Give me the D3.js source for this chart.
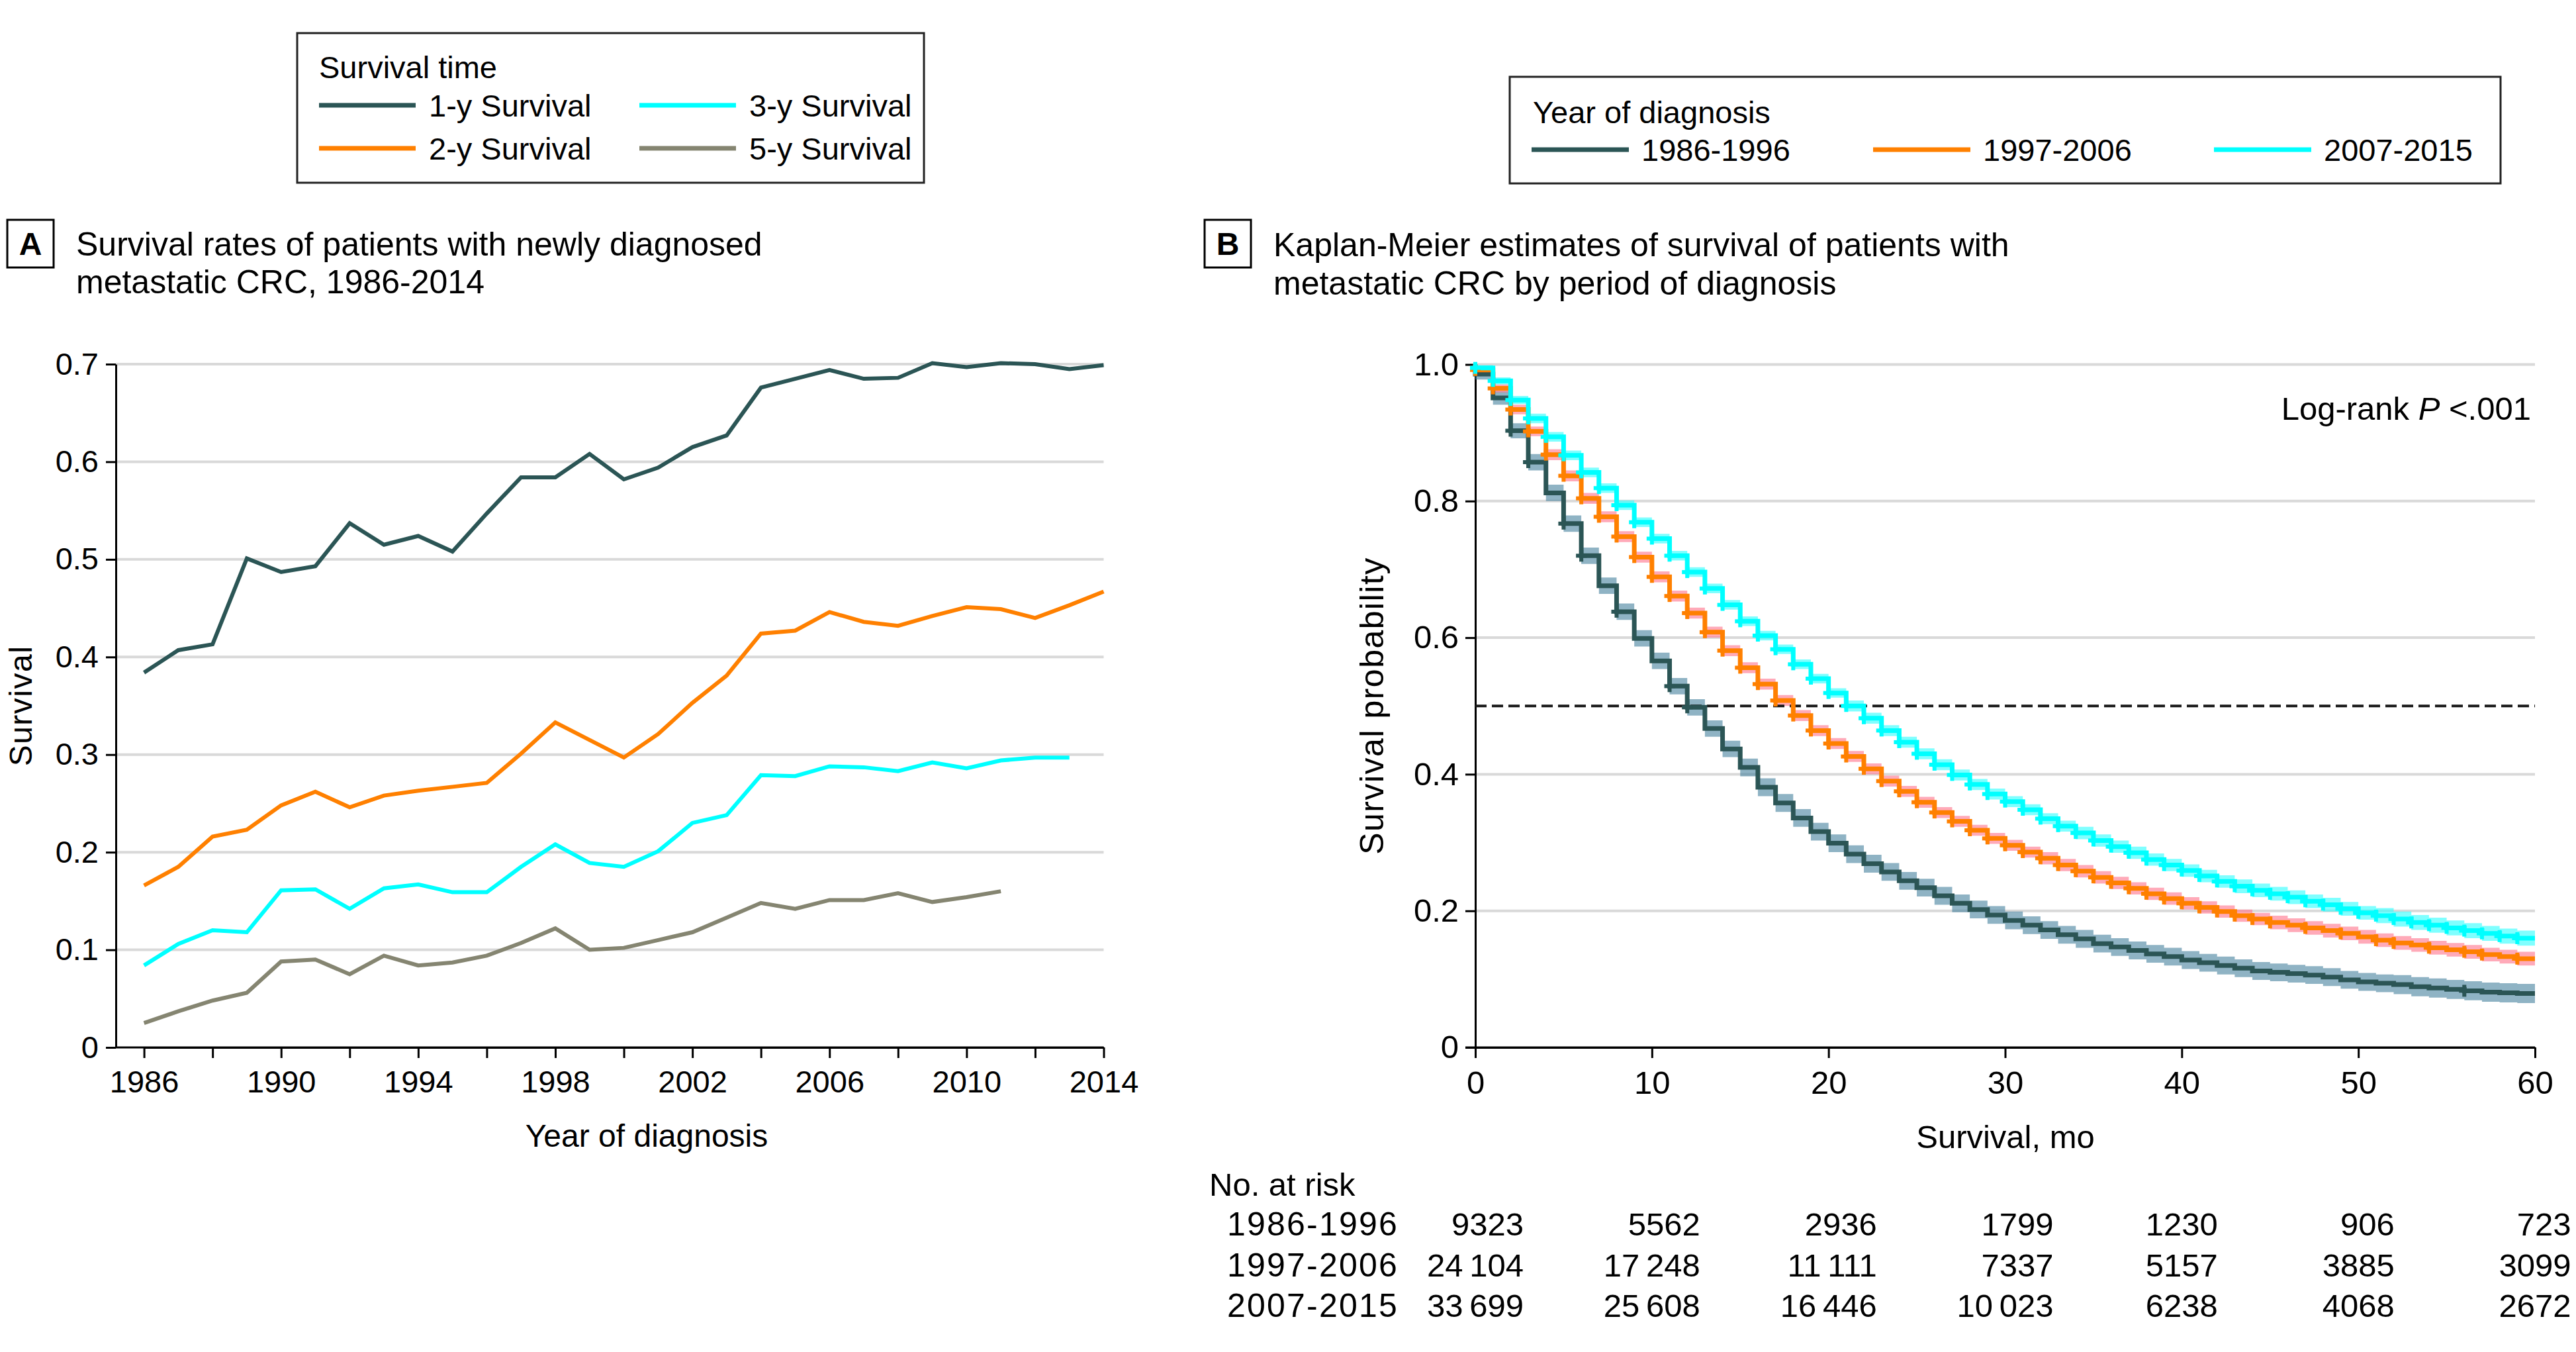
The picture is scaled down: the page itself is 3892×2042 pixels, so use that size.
<!DOCTYPE html>
<html><head><meta charset="utf-8">
<script src="https://cdn.jsdelivr.net/npm/d3@7"></script>
<style>
html,body{margin:0;padding:0;background:#fff;}
svg text{font-family:"Liberation Sans",Arial,Helvetica,sans-serif;fill:#000;}
</style></head><body>
<svg id="chart" width="3892" height="2042"></svg>
<script>
// ---------------- Panel A data ----------------
const years = d3.range(1986, 2015);
const survival1y = [0.384,0.407,0.413,0.501,0.487,0.493,0.537,0.515,0.524,0.508,0.547,0.584,0.584,0.608,0.582,0.594,0.615,0.627,0.676,0.685,0.694,0.685,0.686,0.701,0.697,0.701,0.700,0.695,0.699];
const survival2y = [0.166,0.185,0.216,0.223,0.248,0.262,0.246,0.258,0.263,0.267,0.271,0.301,0.333,0.315,0.297,0.321,0.353,0.381,0.424,0.427,0.446,0.436,0.432,0.442,0.451,0.449,0.440,0.453,0.467];
const survival3y = [0.084,0.106,0.120,0.118,0.161,0.162,0.142,0.163,0.167,0.159,0.159,0.185,0.208,0.189,0.185,0.201,0.230,0.238,0.279,0.278,0.288,0.287,0.283,0.292,0.286,0.294,0.297,0.297];
const survival5y = [0.025,0.037,0.048,0.056,0.088,0.090,0.075,0.094,0.084,0.087,0.094,0.107,0.122,0.100,0.102,0.110,0.118,0.133,0.148,0.142,0.151,0.151,0.158,0.149,0.154,0.160];
const seriesALabels = ["1-y Survival","2-y Survival","3-y Survival","5-y Survival"];
const yTicksA = [0,0.1,0.2,0.3,0.4,0.5,0.6,0.7];

// ---------------- Panel B data ----------------
const groups = ["1986-1996","1997-2006","2007-2015"];
// survival probability for each monthly interval [m, m+1), m = 0..59
const km1986 = [0.986,0.951,0.903,0.857,0.812,0.767,0.720,0.676,0.638,0.599,0.566,0.529,0.498,0.467,0.437,0.410,0.381,0.358,0.336,0.316,0.299,0.283,0.269,0.257,0.244,0.234,0.222,0.211,0.202,0.194,0.186,0.179,0.172,0.165,0.159,0.152,0.147,0.142,0.137,0.133,0.128,0.124,0.120,0.116,0.112,0.110,0.108,0.106,0.103,0.099,0.096,0.094,0.092,0.089,0.087,0.085,0.083,0.081,0.080,0.079];
const km1997 = [0.992,0.965,0.934,0.902,0.868,0.837,0.804,0.777,0.748,0.718,0.689,0.661,0.636,0.608,0.581,0.556,0.532,0.508,0.486,0.464,0.445,0.426,0.408,0.390,0.375,0.359,0.344,0.331,0.318,0.306,0.296,0.286,0.277,0.267,0.258,0.249,0.241,0.233,0.225,0.218,0.211,0.205,0.199,0.193,0.188,0.183,0.179,0.175,0.171,0.167,0.162,0.157,0.153,0.150,0.146,0.143,0.140,0.136,0.133,0.130];
const km2007 = [0.995,0.976,0.948,0.921,0.894,0.867,0.842,0.819,0.794,0.769,0.745,0.720,0.696,0.672,0.648,0.624,0.603,0.583,0.561,0.540,0.519,0.500,0.482,0.464,0.447,0.430,0.414,0.399,0.385,0.371,0.360,0.348,0.335,0.324,0.314,0.303,0.294,0.285,0.275,0.267,0.259,0.251,0.243,0.236,0.230,0.225,0.220,0.214,0.209,0.203,0.197,0.193,0.188,0.183,0.179,0.175,0.171,0.167,0.163,0.160];
// 95% CI half-widths per interval
const ci1986 = [0.008,0.010,0.011,0.012,0.012,0.012,0.012,0.012,0.012,0.012,0.012,0.012,0.012,0.012,0.012,0.013,0.013,0.013,0.013,0.013,0.013,0.013,0.013,0.013,0.013,0.013,0.013,0.013,0.013,0.013,0.013,0.013,0.013,0.013,0.013,0.013,0.013,0.013,0.013,0.013,0.013,0.013,0.013,0.013,0.013,0.013,0.013,0.013,0.013,0.013,0.013,0.013,0.014,0.014,0.014,0.014,0.014,0.014,0.014,0.014];
const ci1997 = [0.004,0.006,0.007,0.007,0.008,0.008,0.008,0.008,0.008,0.008,0.008,0.008,0.008,0.008,0.008,0.008,0.008,0.008,0.008,0.008,0.008,0.008,0.008,0.008,0.008,0.008,0.008,0.008,0.008,0.008,0.008,0.008,0.009,0.009,0.009,0.009,0.009,0.009,0.009,0.009,0.009,0.009,0.009,0.009,0.009,0.010,0.010,0.010,0.010,0.010,0.010,0.010,0.010,0.010,0.010,0.010,0.010,0.010,0.010,0.010];
const ci2007 = [0.004,0.005,0.006,0.007,0.007,0.007,0.007,0.007,0.007,0.007,0.007,0.007,0.007,0.007,0.007,0.007,0.007,0.007,0.007,0.007,0.007,0.008,0.008,0.008,0.008,0.008,0.008,0.008,0.008,0.008,0.008,0.008,0.008,0.008,0.009,0.009,0.009,0.009,0.009,0.009,0.009,0.009,0.009,0.010,0.010,0.010,0.010,0.010,0.010,0.010,0.010,0.011,0.011,0.011,0.011,0.011,0.011,0.011,0.011,0.011];
// months with censoring marks
const censor1986 = [2,3,5,6,8,11,12,56];
const censor1997 = [0,1,2,3,4,5,6,7,8,9,10,11,12,13,14,15,16,17,18,19,20,21,22,23,24,25,26,27,28,29,30,31,32,33,34,35,36,37,38,39,40,41,42,43,44,45,47,49,51,52,54,56,57,59];
const censor2007 = d3.range(0, 60);
const xTicksB = [0,10,20,30,40,50,60];
const yTicksB = [0,0.2,0.4,0.6,0.8,1.0];
const riskMonths = [0,10,20,30,40,50,60];
const risk1986 = [9323,5562,2936,1799,1230,906,723];
const risk1997 = [24104,17248,11111,7337,5157,3885,3099];
const risk2007 = [33699,25608,16446,10023,6238,4068,2672];

// ---------------- styling ----------------
const colA = ["#2b5555","#ff8000","#00ffff","#858571"];
const colB = ["#2b5555","#ff8000","#00ffff"];
const bandB = ["#44809c","#ff718a","#2bffff"];
const GRID = "#d9d9d9";

const svg = d3.select("#chart");
svg.append("rect").attr("width",3892).attr("height",2042).attr("fill","#fff");

// ================= PANEL A =================
const xA = d3.scaleLinear().domain([1986, 2014]).range([217.6, 1667.5]);
const yA = d3.scaleLinear().domain([0, 0.7]).range([1582, 550]);
const gA = svg.append("g");

gA.selectAll("line.grid").data(yTicksA.filter(d => d > 0)).join("line")
  .attr("x1", 175).attr("x2", xA(2014)).attr("y1", d => yA(d)).attr("y2", d => yA(d))
  .attr("stroke", GRID).attr("stroke-width", 4);

const yAxisA = gA.append("g").attr("transform","translate(175,0)")
  .call(d3.axisLeft(yA).tickValues(yTicksA).tickSize(15).tickSizeOuter(0).tickPadding(11)
    .tickFormat(d => d === 0 ? "0" : d3.format(".1f")(d)));
const xAxisA = gA.append("g").attr("transform","translate(0,1582)")
  .call(d3.axisBottom(xA).tickValues(d3.range(1986, 2015, 2)).tickSize(16).tickSizeOuter(0).tickPadding(19)
    .tickFormat(d => (d - 1986) % 4 === 0 ? d : ""));
[yAxisA, xAxisA].forEach(a => {
  a.select(".domain").attr("stroke","#000").attr("stroke-width",3);
  a.selectAll(".tick line").attr("stroke","#000").attr("stroke-width",3);
  a.selectAll(".tick text").attr("font-size",47).attr("fill","#000")
    .style("font-family",'"Liberation Sans",Arial,sans-serif');
});
gA.append("line").attr("x1",175).attr("x2",xA(2014)).attr("y1",1582).attr("y2",1582)
  .attr("stroke","#000").attr("stroke-width",3);

const seriesA = [survival1y, survival2y, survival3y, survival5y];
const lineA = d3.line().x((d,i) => xA(years[i])).y(d => yA(d));
seriesA.forEach((s, k) => {
  gA.append("path").datum(s).attr("d", lineA).attr("fill","none")
    .attr("stroke", colA[k]).attr("stroke-width", 6).attr("stroke-linejoin","miter");
});

gA.append("text").attr("x", 977).attr("y", 1732).attr("text-anchor","middle").attr("font-size",48).text("Year of diagnosis");
gA.append("text").attr("transform","translate(48,1066) rotate(-90)").attr("text-anchor","middle").attr("font-size",48).attr("letter-spacing",1.5).text("Survival");

gA.append("rect").attr("x",11).attr("y",332).attr("width",70).attr("height",72).attr("fill","#fff").attr("stroke","#000").attr("stroke-width",3);
gA.append("text").attr("x",46).attr("y",385).attr("text-anchor","middle").attr("font-size",48).attr("font-weight","bold").text("A");
gA.append("text").attr("x",115).attr("y",386).attr("font-size",50).text("Survival rates of patients with newly diagnosed");
gA.append("text").attr("x",115).attr("y",443).attr("font-size",50).text("metastatic CRC, 1986-2014");

gA.append("rect").attr("x",449).attr("y",50).attr("width",947).attr("height",226).attr("fill","#fff").attr("stroke","#222").attr("stroke-width",3);
gA.append("text").attr("x",482).attr("y",118).attr("font-size",47).text("Survival time");
const legA = [
  {k:0, x:482, y:159}, {k:2, x:966, y:159},
  {k:1, x:482, y:224}, {k:3, x:966, y:224}
];
legA.forEach(o => {
  gA.append("line").attr("x1",o.x).attr("x2",o.x+146).attr("y1",o.y).attr("y2",o.y)
    .attr("stroke",colA[o.k]).attr("stroke-width",7);
  gA.append("text").attr("x",o.x+166).attr("y",o.y+17).attr("font-size",47).text(seriesALabels[o.k]);
});

// ================= PANEL B =================
const xB = d3.scaleLinear().domain([0, 60]).range([2229, 3830]);
const yB = d3.scaleLinear().domain([0, 1]).range([1582, 550.5]);
const gB = svg.append("g");

gB.selectAll("line.grid").data(yTicksB.filter(d => d > 0)).join("line")
  .attr("x1", xB(0)).attr("x2", xB(60)).attr("y1", d => yB(d)).attr("y2", d => yB(d))
  .attr("stroke", GRID).attr("stroke-width", 4);

const yAxisB = gB.append("g").attr("transform",`translate(${xB(0)},0)`)
  .call(d3.axisLeft(yB).tickValues(yTicksB).tickSize(15).tickSizeOuter(0).tickPadding(10)
    .tickFormat(d => d === 0 ? "0" : d3.format(".1f")(d)));
const xAxisB = gB.append("g").attr("transform","translate(0,1582)")
  .call(d3.axisBottom(xB).tickValues(xTicksB).tickSize(16).tickSizeOuter(0).tickPadding(19));
[yAxisB, xAxisB].forEach(a => {
  a.select(".domain").attr("stroke","#000").attr("stroke-width",3);
  a.selectAll(".tick line").attr("stroke","#000").attr("stroke-width",3);
  a.selectAll(".tick text").attr("font-size",49).attr("fill","#000")
    .style("font-family",'"Liberation Sans",Arial,sans-serif');
});

const kmSeries = [km1986, km1997, km2007];
const ciSeries = [ci1986, ci1997, ci2007];
const censorSeries = [censor1986, censor1997, censor2007];

kmSeries.forEach((s, k) => {
  const pts = s.map((v, m) => ({m, v, c: ciSeries[k][m]}));
  pts.push({m: 60, v: s[s.length-1], c: ciSeries[k][s.length-1]});
  const area = d3.area().curve(d3.curveStepAfter)
    .x(d => xB(d.m)).y0(d => yB(d.v - d.c)).y1(d => yB(d.v + d.c));
  gB.append("path").datum(pts).attr("d", area).attr("fill", bandB[k]).attr("fill-opacity", 0.6);
});

gB.append("line").attr("x1", xB(0)).attr("x2", xB(60)).attr("y1", yB(0.5)).attr("y2", yB(0.5))
  .attr("stroke","#1a1a1a").attr("stroke-width",4).attr("stroke-dasharray","17,8");

kmSeries.forEach((s, k) => {
  const pts = [{m:0, v:1}].concat(s.map((v, m) => ({m, v})));
  pts.push({m: 60, v: s[s.length-1]});
  const line = d3.line().curve(d3.curveStepAfter).x(d => xB(d.m)).y(d => yB(d.v));
  gB.append("path").datum(pts).attr("d", line).attr("fill","none")
    .attr("stroke", colB[k]).attr("stroke-width", 7);
});
kmSeries.forEach((s, k) => {
  const g = gB.append("g").attr("stroke", colB[k]).attr("stroke-width", 6);
  censorSeries[k].forEach(m => {
    const cx = xB(m), cy = yB(s[Math.min(m, s.length-1)]);
    g.append("line").attr("x1", cx).attr("x2", cx).attr("y1", cy - 9).attr("y2", cy + 9);
    g.append("line").attr("x1", cx - 8).attr("x2", cx + 8).attr("y1", cy).attr("y2", cy);
  });
});

gB.append("line").attr("x1",xB(0)-15).attr("x2",xB(60)).attr("y1",1582).attr("y2",1582)
  .attr("stroke","#000").attr("stroke-width",3);

gB.append("text").attr("x", 3030).attr("y", 1734).attr("text-anchor","middle").attr("font-size",49).text("Survival, mo");
gB.append("text").attr("transform","translate(2090,1066) rotate(-90)").attr("text-anchor","middle").attr("font-size",50).attr("letter-spacing",1.5).text("Survival probability");

const lr = gB.append("text").attr("x", 3824).attr("y", 634).attr("text-anchor","end").attr("font-size",49);
lr.append("tspan").text("Log-rank ");
lr.append("tspan").attr("font-style","italic").text("P");
lr.append("tspan").text(" <.001");

gB.append("rect").attr("x",1820).attr("y",332).attr("width",70).attr("height",72).attr("fill","#fff").attr("stroke","#000").attr("stroke-width",3);
gB.append("text").attr("x",1855).attr("y",385).attr("text-anchor","middle").attr("font-size",48).attr("font-weight","bold").text("B");
gB.append("text").attr("x",1924).attr("y",387).attr("font-size",50).text("Kaplan-Meier estimates of survival of patients with");
gB.append("text").attr("x",1924).attr("y",445).attr("font-size",50).text("metastatic CRC by period of diagnosis");

gB.append("rect").attr("x",2281).attr("y",116).attr("width",1497).attr("height",161).attr("fill","#fff").attr("stroke","#222").attr("stroke-width",3);
gB.append("text").attr("x",2316).attr("y",186).attr("font-size",47).text("Year of diagnosis");
const legBx = [2314, 2830, 3345];
groups.forEach((g, k) => {
  gB.append("line").attr("x1",legBx[k]).attr("x2",legBx[k]+147).attr("y1",226).attr("y2",226)
    .attr("stroke",colB[k]).attr("stroke-width",7);
  gB.append("text").attr("x",legBx[k]+166).attr("y",243).attr("font-size",47).text(g);
});

const fmtN = n => { const s = String(n); return s.length > 4 ? s.slice(0, s.length-3) + "\u2009" + s.slice(-3) : s; };
gB.append("text").attr("x",1827).attr("y",1806).attr("font-size",49).text("No. at risk");
const riskRows = [risk1986, risk1997, risk2007];
const rowY = [1866, 1928, 1989];
groups.forEach((g, r) => {
  gB.append("text").attr("x",2113).attr("y",rowY[r]).attr("text-anchor","end").attr("font-size",50)
    .attr("letter-spacing",2.2).text(g);
});
riskMonths.forEach((m, j) => {
  const texts = riskRows.map((row, r) =>
    gB.append("text").attr("y", rowY[r]).attr("text-anchor","end").attr("font-size",49).text(fmtN(row[j])));
  const maxW = d3.max(texts, t => t.node().getComputedTextLength());
  texts.forEach(t => t.attr("x", xB(m) + maxW / 2));
});
</script>
</body></html>
